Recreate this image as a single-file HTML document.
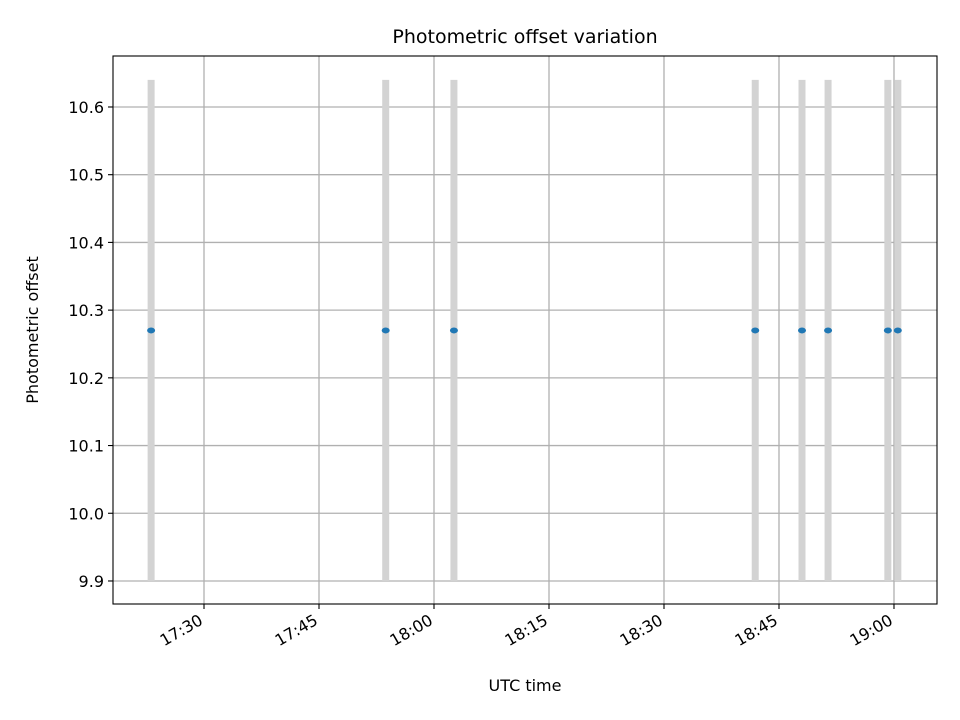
<!DOCTYPE html>
<html><head><meta charset="utf-8"><style>body{margin:0;background:#fff}svg{display:block;font-family:"DejaVu Sans","Liberation Sans",sans-serif}</style></head>
<body>
<svg id="chart" width="960" height="720" viewBox="0 0 960 720"></svg>
<script>
// minutes after 17:30 UTC
const times = [-6.9, 23.7, 32.6, 71.9, 78.0, 81.4, 89.2, 90.5];
const offsets = [10.27, 10.27, 10.27, 10.27, 10.27, 10.27, 10.27, 10.27];
const errors = [0.37, 0.37, 0.37, 0.37, 0.37, 0.37, 0.37, 0.37];
const xTickMinutes = [0, 15, 30, 45, 60, 75, 90];
const xTickLabels = ["17:30", "17:45", "18:00", "18:15", "18:30", "18:45", "19:00"];
const yTicks = [9.9, 10.0, 10.1, 10.2, 10.3, 10.4, 10.5, 10.6];

const L=113,R=937,T=56,B=604;
const xMin=-11.87,xMax=95.61,yMin=9.866,yMax=10.6753;
const X=v=>L+(v-xMin)/(xMax-xMin)*(R-L);
const Y=v=>B-(v-yMin)/(yMax-yMin)*(B-T);
const svg=document.getElementById('chart');
const NS='http://www.w3.org/2000/svg';
function mk(tag,attrs,parent){const e=document.createElementNS(NS,tag);for(const k in attrs)e.setAttribute(k,attrs[k]);(parent||svg).appendChild(e);return e;}

const grid=mk('g',{});


xTickMinutes.forEach((m,i)=>{
  const x=X(m);
  const gl=mk('line',{x1:x,x2:x,y1:T,y2:B,stroke:'#b0b0b0','stroke-width':1.3},grid);
  
  
  const tk=mk('line',{x1:x,x2:x,y1:B,y2:B+5,stroke:'#000','stroke-width':1.1});
  
  
  const ax=x-6, ay=B+9;
  const t=mk('text',{x:ax,y:ay,'font-size':16,'text-anchor':'end',transform:`rotate(-30 ${ax} ${ay})`,'dominant-baseline':'hanging'});
  t.textContent=xTickLabels[i];
  
  
});
yTicks.forEach(v=>{
  const y=Y(v);
  const gl=mk('line',{x1:L,x2:R,y1:y,y2:y,stroke:'#b0b0b0','stroke-width':1.3},grid);
  
  
  const tk=mk('line',{x1:L-5,x2:L,y1:y,y2:y,stroke:'#000','stroke-width':1.1});
  
  
  const t=mk('text',{x:L-9,y:y+6,'font-size':16,'text-anchor':'end'});
  t.textContent=v.toFixed(1);
  
  
});
times.forEach((m,i)=>{
  const x=X(m);
  const eb=mk('line',{x1:x,x2:x,y1:Y(offsets[i]+errors[i]),y2:Y(offsets[i]-errors[i]),stroke:'#d3d3d3','stroke-width':7});
  
  
});
times.forEach((m,i)=>{
  const p=mk('ellipse',{cx:X(m),cy:Y(offsets[i]),rx:4,ry:3,fill:'#1f77b4'});
  
  
});
const frame=mk('rect',{x:L,y:T,width:R-L,height:B-T,fill:'none',stroke:'#000','stroke-width':1.1});


const title=mk('text',{x:(L+R)/2,y:43,'font-size':19,'text-anchor':'middle'});
title.textContent='Photometric offset variation';


const xt=mk('text',{x:(L+R)/2,y:691,'font-size':16,'text-anchor':'middle'});
xt.textContent='UTC time';


const yt=mk('text',{x:38,y:330,'font-size':16,'text-anchor':'middle',transform:'rotate(-90 38 330)'});
yt.textContent='Photometric offset';


</script>
</body></html>
